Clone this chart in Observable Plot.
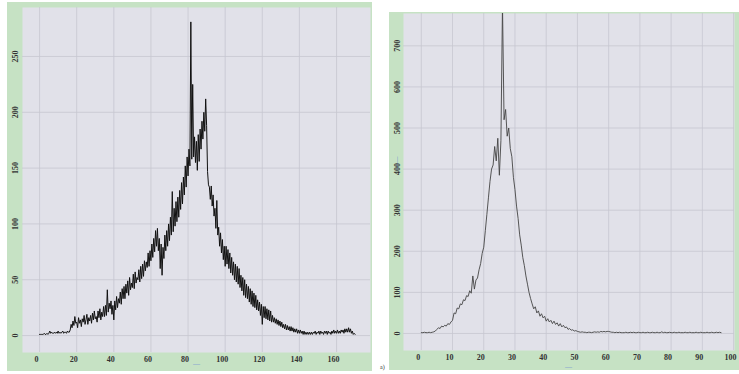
<!DOCTYPE html>
<html><head><meta charset="utf-8">
<script src="https://cdn.jsdelivr.net/npm/d3@7"></script>
<script src="https://cdn.jsdelivr.net/npm/@observablehq/plot@0.6"></script>
<style>
body{margin:0;background:#fff;width:739px;height:374px;position:relative;overflow:hidden;font-family:"Liberation Serif",serif}
#left{position:absolute;left:7px;top:2px}
#right{position:absolute;left:389px;top:12px}
.lbl{position:absolute;font-size:7px;line-height:7px;color:#5b80d6;font-family:"Liberation Serif",serif}
</style></head><body>
<div id="left"></div><div id="right"></div>
<div class="lbl" style="left:193px;top:361px">—</div>
<div class="lbl" style="left:565px;top:364px">—</div>
<div class="lbl" style="left:390px;top:160px;transform:rotate(-90deg)">——</div>
<div class="lbl" style="left:380px;top:364px;color:#333;font-size:6px">a)</div>
<script>
// Left panel: values sampled every 0.5 from x = 0
const leftValues = [
1,1,1,1,1,2,1,1,2,1,2,4,2,3,2,2,3,2,3,2,4,2,3,2,3,4,2,3,3,2,4,3,3,
5,10,7,13,9,17,11,12,7,16,11,14,8,15,12,18,10,14,
19,10,16,13,18,11,20,14,22,15,17,12,22,16,24,14,21,17,26,17,
27,18,41,21,29,24,31,19,27,14,31,23,35,25,33,29,39,28,42,33,
44,33,46,38,49,36,52,41,47,43,55,42,57,47,52,50,59,48,62,51,
64,53,67,58,66,61,74,62,76,67,82,70,87,75,94,80,96,76,87,60,
82,54,79,69,90,76,94,80,100,85,106,90,129,93,114,98,120,102,124,106,
130,113,137,118,142,126,152,133,160,143,167,152,281,158,225,160,178,155,174,148,
180,156,185,167,192,176,200,183,212,188,147,135,133,122,134,116,126,107,114,96,
121,90,97,80,92,74,86,68,80,62,80,64,77,60,74,56,70,54,66,50,
64,48,62,46,60,43,54,40,52,36,50,34,46,33,44,30,42,28,40,26,
38,25,36,23,32,22,30,18,28,10,26,16,26,15,24,14,23,13,22,12,
18,12,16,11,15,10,14,9,13,8,12,7,10,6,10,5,9,5,8,4,
8,4,7,3,6,3,6,2,5,2,5,2,4,1,4,1,3,1,3,1,
3,1,3,1,3,2,4,1,3,2,4,1,4,2,3,1,4,2,4,1,
4,2,3,1,4,2,5,2,4,2,5,2,4,2,5,3,5,2,6,3,
6,3,7,3,6,2,4,1,2,1
];
// Right panel: values sampled every 0.5 from x = 0
const rightValues = [
2,2,3,2,2,3,2,3,4,6,
10,14,12,18,16,20,18,24,22,28,
32,50,48,62,60,72,70,82,80,92,
90,104,98,140,108,130,135,155,170,195,
210,250,290,330,370,400,410,455,420,475,
385,470,800,520,545,480,500,450,430,380,
350,310,280,240,215,185,165,140,120,100,
85,72,60,65,50,55,42,48,38,42,
30,36,28,32,24,30,22,26,18,24,
16,20,14,16,10,12,8,9,6,7,
5,4,3,4,3,3,2,3,3,2,
3,4,3,4,3,5,4,5,4,5,
5,4,3,3,2,3,2,3,2,2,
2,3,2,2,3,2,3,2,2,3,
2,2,3,2,2,3,2,2,3,2,
2,3,2,2,4,2,3,2,2,3,
2,2,3,2,2,3,2,2,2,3,
2,2,3,2,2,2,3,2,2,3,
2,2,2,3,2,2,3,2,2,3,
2,3,2
];
const leftStep = 0.5;
const rightStep = 0.5;
const leftXTicks = [0,20,40,60,80,100,120,140,160];
const leftYTicks = [0,50,100,150,200,250];
const rightXTicks = [0,10,20,30,40,50,60,70,80,90,100];
const rightYTicks = [0,100,200,300,400,500,600,700];

const GREEN = "#c6e2c4", PLOTBG = "#e1e1e9", GRID = "#c7c7d1", LABEL = "#333";

function panel(o) {
  const pts = o.values.map((v, i) => ({x: i * o.step, y: v}));
  return Plot.plot({
    width: o.width, height: o.height,
    marginLeft: o.ml, marginRight: o.mr, marginTop: o.mt, marginBottom: o.mb,
    style: {background: GREEN, fontFamily: "Liberation Serif, serif", overflow: "visible"},
    x: {domain: o.xDomain, axis: null},
    y: {domain: o.yDomain, axis: null},
    marks: [
      Plot.frame({fill: PLOTBG, stroke: null}),
      Plot.gridX(o.xTicks, {stroke: GRID, strokeOpacity: 1, strokeWidth: 0.8}),
      Plot.gridY(o.yTicks, {stroke: GRID, strokeOpacity: 1, strokeWidth: 0.8}),
      Plot.text(o.xTicks, {x: d => d, frameAnchor: "bottom", dy: 9, dx: -3, text: d => String(d), fontSize: 8, fill: LABEL, fontWeight: "bold"}),
      Plot.text(o.yTicks, {y: d => d, frameAnchor: "left", dx: o.ylabDx, rotate: -90, text: d => String(d), fontSize: 8, fill: LABEL, fontWeight: "bold", textAnchor: "middle"}),
      Plot.line(pts, {x: "x", y: "y", stroke: o.stroke, strokeWidth: o.sw, clip: true})
    ]
  });
}

document.getElementById("left").append(panel({
  values: leftValues, step: leftStep, width: 365, height: 369,
  ml: 15, mr: 2, mt: 5, mb: 19,
  xDomain: [-9.2, 178.3], yDomain: [-15.2, 293.9],
  xTicks: leftXTicks, yTicks: leftYTicks, ylabDx: -7,
  stroke: "#111", sw: 1.0
}));
document.getElementById("right").append(panel({
  values: rightValues, step: rightStep, width: 350, height: 358,
  ml: 14, mr: 5, mt: 1, mb: 20,
  xDomain: [-5.7, 100.3], yDomain: [-41.4, 778.6],
  xTicks: rightXTicks, yTicks: rightYTicks, ylabDx: -6,
  stroke: "#444", sw: 0.9
}));
</script>
</body></html>
